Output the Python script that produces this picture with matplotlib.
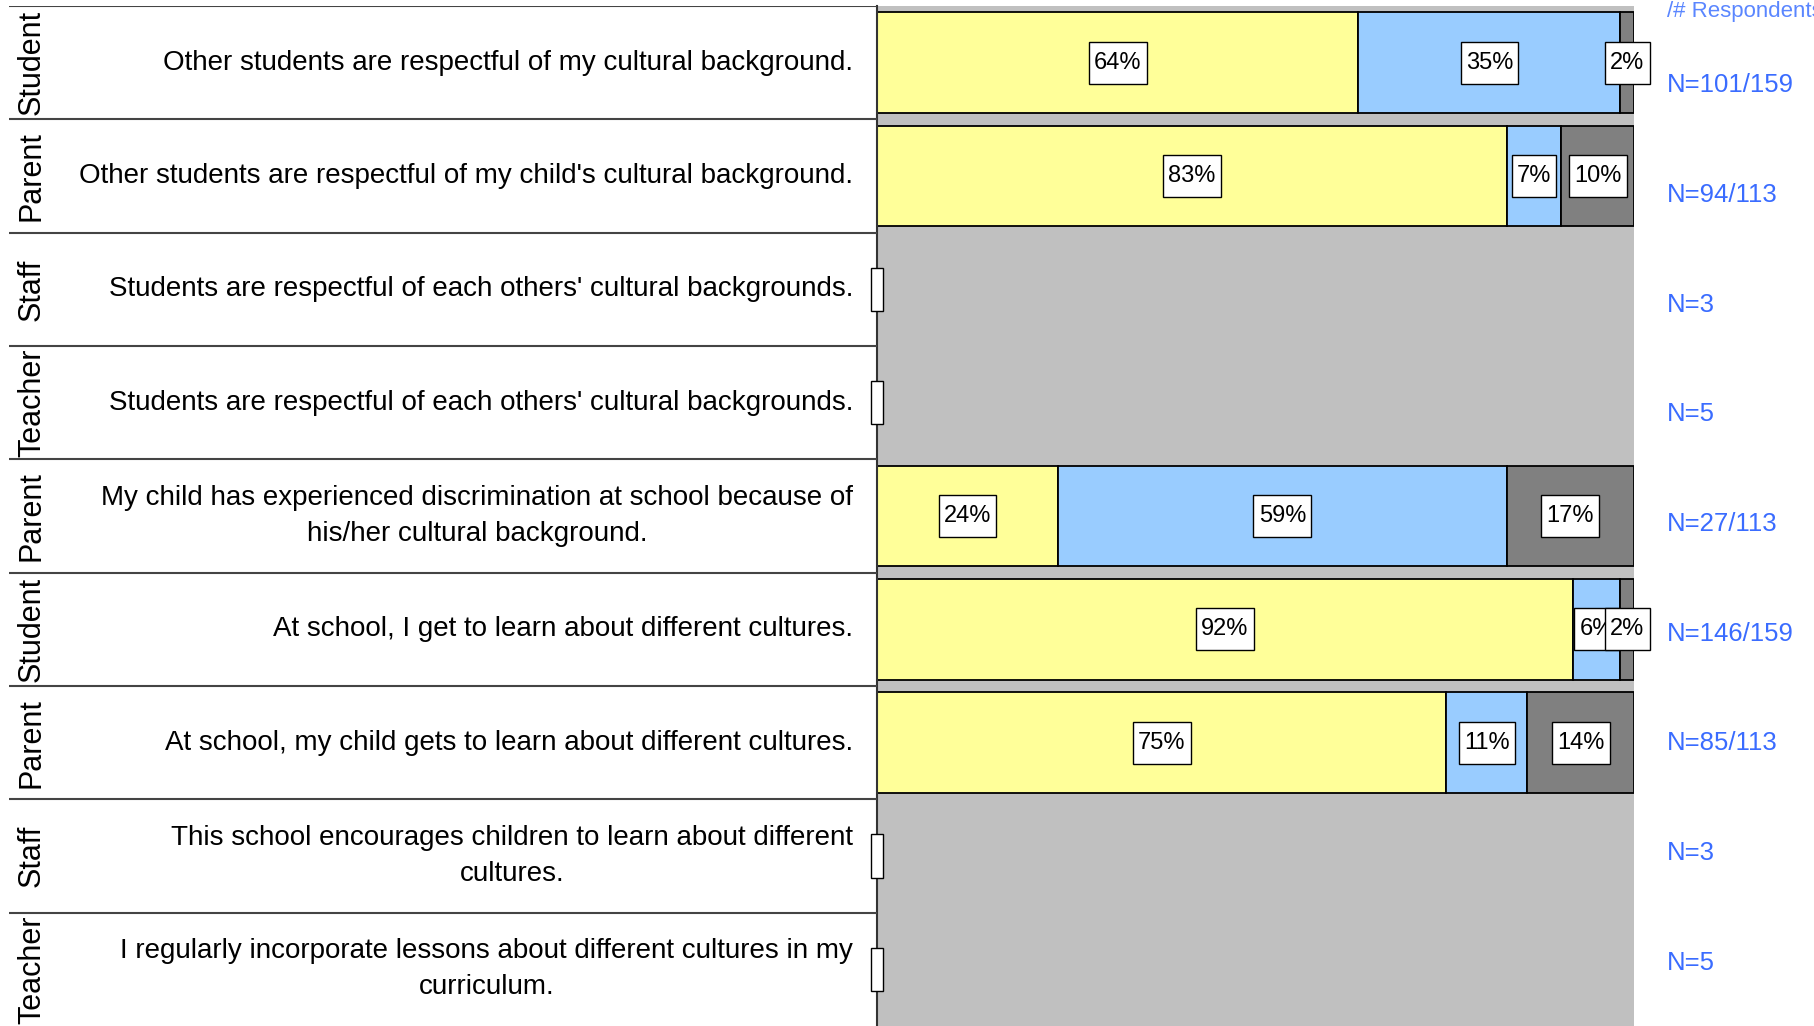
import numpy as np
import matplotlib
matplotlib.use("Agg")
import matplotlib.pyplot as plt

plt.rcParams['font.family'] = ['Liberation Sans', 'DejaVu Sans']

# survey rows, top to bottom
groups = ["Student", "Parent", "Staff", "Teacher", "Parent",
          "Student", "Parent", "Staff", "Teacher"]
questions = [
    "Other students are respectful of my cultural background.",
    "Other students are respectful of my child's cultural background.",
    "Students are respectful of each others' cultural backgrounds.",
    "Students are respectful of each others' cultural backgrounds.",
    "My child has experienced discrimination at school because of\nhis/her cultural background.",
    "At school, I get to learn about different cultures.",
    "At school, my child gets to learn about different cultures.",
    "This school encourages children to learn about different\ncultures.",
    "I regularly incorporate lessons about different cultures in my\ncurriculum.",
]
# percent per segment (yes / no / don't know), zero rows have no answers
yes_pct = [63.6, 83.2, 0, 0, 23.9, 91.9, 75.2, 0, 0]
no_pct = [34.6, 7.2, 0, 0, 59.3, 6.3, 10.7, 0, 0]
dk_pct = [1.8, 9.6, 0, 0, 16.8, 1.8, 14.1, 0, 0]
yes_lbl = ["64%", "83%", "", "", "24%", "92%", "75%", "", ""]
no_lbl = ["35%", "7%", "", "", "59%", "6%", "11%", "", ""]
dk_lbl = ["2%", "10%", "", "", "17%", "2%", "14%", "", ""]
respondents = ["N=101/159", "N=94/113", "N=3", "N=5", "N=27/113",
               "N=146/159", "N=85/113", "N=3", "N=5"]

seg_colors = ["#FFFF99", "#99CCFF", "#808080"]
blue = "#3a6cff"


def draw_bars(ax, y):
    # stacked horizontal bars with boxed labels
    box = dict(boxstyle="square,pad=0.22", mutation_aspect=1.9,
               facecolor="white", edgecolor="black", lw=1)
    left = np.zeros(len(y))
    for vals, lbls, col in zip([yes_pct, no_pct, dk_pct], [yes_lbl, no_lbl, dk_lbl], seg_colors):
        vals = np.array(vals, dtype=float)
        ax.barh(y, vals, left=left, height=0.89, color=col, edgecolor="black", lw=1.3)
        for i in range(len(y)):
            if vals[i] > 0:
                ax.text(left[i] + vals[i] / 2, y[i], lbls[i], ha="center", va="center",
                        fontsize=17, bbox=box, zorder=5)
        left += vals
    # empty label boxes for rows without answers
    empty = dict(boxstyle="square,pad=0.1", mutation_aspect=4.5,
                 facecolor="white", edgecolor="black", lw=1)
    for i in range(len(y)):
        if left[i] == 0:
            ax.text(0, y[i], " ", ha="center", va="center", fontsize=17, bbox=empty,
                    zorder=5, clip_on=False)


def main():
    fig = plt.figure(figsize=(18.14, 10.26), dpi=100)
    x0, x1 = 877 / 1814, 1634 / 1814
    top = 1 - 6 / 1026
    n = len(groups)
    y = np.arange(n)

    ax = fig.add_axes([x0, 0, x1 - x0, top])
    ax.set_facecolor("#C0C0C0")
    draw_bars(ax, y)
    ax.set_xlim(0, 100)
    ax.set_ylim(n - 0.5, -0.5)
    ax.set_xticks([])
    ax.set_yticks([])
    for s in ["top", "right", "bottom"]:
        ax.spines[s].set_visible(False)
    ax.spines["left"].set_color("#333333")
    ax.spines["left"].set_linewidth(1.5)

    # left side: group names, questions and separators
    axl = fig.add_axes([0, 0, x0, top])
    axl.set_xlim(0, 1)
    axl.set_ylim(n - 0.5, -0.5)
    axl.axis("off")
    axl.hlines(np.arange(n) - 0.5, 9 / 877, 1, color="#444444", lw=1.5)
    for i in range(n):
        axl.text(32 / 877, y[i], groups[i], rotation=90, ha="center", va="center", fontsize=22)
        axl.text(853 / 877, y[i], questions[i], ha="right", va="center", fontsize=20,
                 multialignment="center", linespacing=1.5)

    # respondent counts
    fig.text(1667 / 1814, 1 - 12 / 1026, "/# Respondents", color="#5a86ff", fontsize=16,
             ha="left", va="center")
    ny = np.linspace(1 - 85 / 1026, 1 - 963 / 1026, n)
    for i in range(n):
        fig.text(1667 / 1814, ny[i], respondents[i], color=blue, fontsize=18.5, ha="left", va="center")

    fig.savefig("out.png", dpi=100)


if __name__ == "__main__":
    main()
